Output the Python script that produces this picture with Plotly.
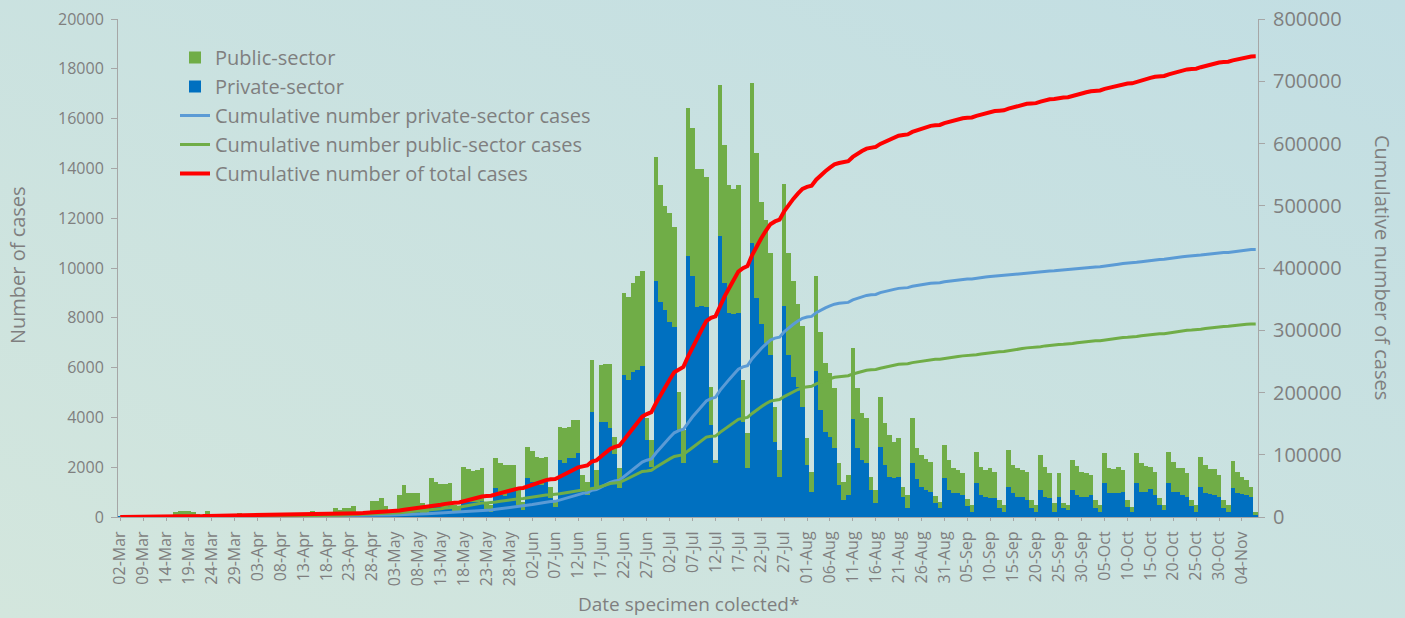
import pandas as pd
import numpy as np
import plotly.graph_objects as go

# ---- categories (specimen collection dates) ----
head_dates = ['02-Mar', '04-Mar', '05-Mar', '06-Mar', '07-Mar']
daily_dates = pd.date_range('2020-03-09', '2020-11-07', freq='D').strftime('%d-%b').tolist()
categories = head_dates + daily_dates
tick_labels = categories[::5]

# ---- daily cases, private sector ----
private = [
    1, 1, 1, 2, 3, 5, 7, 10, 15, 20, 30, 40,
    90, 100, 100, 100, 90, 50, 30, 100, 50, 50, 30, 25, 25, 20,
    60, 30, 30, 30, 30, 20, 20, 30, 35, 35, 30, 25, 20, 20,
    30, 40, 80, 70, 70, 50, 40, 100, 90, 110, 110, 130, 60, 60,
    70, 170, 170, 200, 130, 90, 100, 250, 330, 280, 280, 290, 180, 140,
    450, 420, 400, 400, 430, 180, 150, 650, 620, 600, 620, 650, 250, 200,
    1150, 900, 850, 1050, 1085, 500, 300, 1555, 1420, 1370, 1300, 1400, 750, 400,
    2290, 2160, 2360, 2360, 2560, 1085, 900, 4230, 1150, 3830, 3830, 3560, 2550, 1150,
    5700, 5500, 5840, 5900, 6060, 3090, 2020, 9480, 8650, 8310, 7840, 7640, 3500, 2160,
    10480, 9680, 8450, 8470, 8420, 3690, 2150, 11290, 9390, 8180, 8140, 8200, 3830, 1960,
    11020, 8780, 7750, 7000, 6510, 3020, 1620, 8470, 6510, 5640, 5230, 4430, 2090, 1020,
    5880, 4300, 3430, 3230, 2760, 1290, 700, 880, 3940, 2760, 2290, 2160, 1080, 570,
    2820, 2090, 1620, 1560, 1620, 815, 350, 2160, 1510, 1220, 1085, 1020, 550, 350,
    1555, 1085, 950, 950, 880, 440, 215, 1350, 880, 815, 750, 750, 350, 215,
    1220, 950, 815, 815, 680, 350, 215, 1085, 815, 750, 215, 815, 350, 280,
    1085, 880, 815, 815, 880, 350, 215, 1355, 950, 950, 950, 1020, 410, 215,
    1355, 1020, 1020, 1110, 880, 480, 280, 1355, 1020, 1020, 880, 815, 440, 215,
    1220, 950, 920, 880, 815, 350, 215, 1150, 950, 920, 880, 815, 100,
]

# ---- daily cases, public sector ----
public = [
    0, 0, 1, 1, 2, 3, 5, 6, 10, 15, 20, 30,
    110, 130, 130, 130, 120, 60, 30, 150, 60, 60, 30, 25, 25, 20,
    90, 30, 40, 50, 40, 30, 20, 50, 55, 55, 50, 35, 30, 30,
    50, 60, 170, 130, 130, 100, 60, 250, 190, 240, 240, 300, 90, 90,
    130, 460, 460, 560, 300, 160, 200, 630, 960, 670, 670, 685, 370, 260,
    1100, 1000, 910, 910, 940, 320, 250, 1370, 1295, 1260, 1260, 1305, 350, 300,
    1210, 1280, 1230, 1030, 995, 585, 300, 1265, 1230, 1050, 1060, 1020, 470, 200,
    1340, 1410, 1240, 1540, 1340, 605, 520, 2070, 750, 2270, 2320, 2590, 680, 805,
    3280, 3350, 3550, 3780, 3820, 870, 1070, 4990, 4680, 4180, 4360, 4020, 1530, 1330,
    5930, 5930, 5510, 5490, 5250, 1540, 150, 6060, 5550, 5150, 5020, 5130, 1670, 1400,
    6400, 5820, 4910, 4930, 4100, 1410, 1070, 4900, 4100, 3850, 3320, 3250, 1070, 800,
    3810, 3120, 2740, 2540, 2410, 870, 700, 820, 2830, 2410, 1900, 1800, 540, 510,
    2010, 1670, 1670, 1460, 1540, 405, 530, 1800, 1250, 1270, 1235, 1200, 295, 265,
    1335, 1205, 1005, 940, 875, 270, 265, 1270, 1115, 1075, 1205, 1070, 330, 265,
    1470, 1140, 1140, 1075, 1140, 330, 265, 1405, 1205, 1005, 335, 940, 200, 200,
    1205, 1170, 1005, 940, 810, 330, 265, 1205, 1005, 970, 1070, 870, 270, 195,
    1205, 1140, 1030, 910, 940, 270, 200, 1265, 1200, 935, 1075, 940, 240, 265,
    1200, 1140, 1000, 1040, 875, 330, 265, 1100, 870, 700, 610, 405, 115,
]

cum_private = np.cumsum(private)
cum_public = np.cumsum(public)
cum_total = cum_private + cum_public

FONT = 'Open Sans'
GREY = '#7f7f7f'
AXIS = '#a6a6a6'

fig = go.Figure()
fig.add_trace(go.Bar(x=categories, y=private, name='Private-sector',
                     marker=dict(color='#0070c0', line=dict(width=0)),
                     legendrank=2, legendgroup='b'))
fig.add_trace(go.Bar(x=categories, y=public, name='Public-sector',
                     marker=dict(color='#70ad47', line=dict(width=0)),
                     legendrank=1, legendgroup='a'))
fig.add_trace(go.Scatter(x=categories, y=cum_private, yaxis='y2', mode='lines',
                         name='Cumulative number private-sector cases',
                         line=dict(color='#5b9bd5', width=3),
                         legendrank=3, legendgroup='c'))
fig.add_trace(go.Scatter(x=categories, y=cum_public, yaxis='y2', mode='lines',
                         name='Cumulative number public-sector cases',
                         line=dict(color='#70ad47', width=3),
                         legendrank=4, legendgroup='d'))
fig.add_trace(go.Scatter(x=categories, y=cum_total, yaxis='y2', mode='lines',
                         name='Cumulative number of total cases',
                         line=dict(color='#ff0000', width=4),
                         legendrank=5, legendgroup='e'))

gradient_svg = (
    "data:image/svg+xml;utf8,"
    "<svg xmlns='http://www.w3.org/2000/svg' width='1405' height='618'>"
    "<defs><linearGradient id='g' x1='0' y1='1' x2='1' y2='0'>"
    "<stop offset='0' stop-color='%23d3e6dd'/><stop offset='1' stop-color='%23c2dee3'/>"
    "</linearGradient></defs><rect width='1405' height='618' fill='url(%23g)'/></svg>"
)

W, H = 1405, 618
L, R, T, B = 118, 147, 19, 101
pw, ph = W - L - R, H - T - B

fig.update_layout(
    width=W, height=H,
    margin=dict(l=L, r=R, t=T, b=B, autoexpand=False),
    paper_bgcolor='#c9e1e0',
    plot_bgcolor='rgba(0,0,0,0)',
    barmode='stack', bargap=0,
    font=dict(family=FONT, color=GREY),
    showlegend=True,
    legend=dict(x=(175 - L) / pw, y=(517 - 38) / ph, xanchor='left', yanchor='top',
                bgcolor='rgba(0,0,0,0)', font=dict(size=20, color=GREY, family=FONT),
                tracegroupgap=8, traceorder='normal'),
    xaxis=dict(type='category', categoryorder='array', categoryarray=categories,
               tickmode='array', tickvals=tick_labels, ticktext=tick_labels,
               tickangle=-90, tickfont=dict(size=16, color=GREY, family=FONT),
               showline=True, linecolor=AXIS, linewidth=1,
               ticks='outside', ticklen=3, tickcolor=AXIS, automargin=False,
               showgrid=False, zeroline=False, ticklabelstandoff=4),
    yaxis=dict(range=[0, 20000], dtick=2000, tickformat='d',
               tickfont=dict(size=16, color=GREY, family=FONT),
               showline=True, linecolor=AXIS, linewidth=1, automargin=False,
               ticks='outside', ticklen=6, tickcolor=AXIS,
               showgrid=False, zeroline=False, ticklabelstandoff=4),
    yaxis2=dict(range=[0, 800000], dtick=100000, tickformat='d', overlaying='y', side='right',
                tickfont=dict(size=20, color=GREY, family=FONT),
                showline=True, linecolor=AXIS, linewidth=1, automargin=False,
                ticks='outside', ticklen=6, tickcolor=AXIS,
                showgrid=False, zeroline=False, ticklabelstandoff=4),
    images=[dict(source=gradient_svg, xref='paper', yref='paper',
                 x=-L / pw, y=1 + T / ph, sizex=W / pw, sizey=H / ph,
                 sizing='stretch', layer='below', xanchor='left', yanchor='top')],
    annotations=[
        dict(text='Number of cases', x=(17 - L) / pw, y=(517 - 265) / ph, xref='paper', yref='paper',
             xanchor='center', yanchor='middle',
             textangle=-90, showarrow=False, font=dict(size=20, color=GREY, family=FONT)),
        dict(text='Cumulative number of cases', x=(1383 - L) / pw, y=(517 - 267) / ph,
             xref='paper', yref='paper', xanchor='center', yanchor='middle',
             textangle=90, showarrow=False, font=dict(size=20, color=GREY, family=FONT)),
        dict(text='Date specimen colected*', x=(688 - L) / pw, y=-(604 - 517) / ph,
             xref='paper', yref='paper', xanchor='center', yanchor='middle', showarrow=False,
             font=dict(size=19, color=GREY, family=FONT)),
    ],
)

fig.write_html('out.html', config={'displayModeBar': False},
               post_script="document.body.style.margin='0';document.body.style.padding='0';"
                           "document.body.style.overflow='hidden';")
